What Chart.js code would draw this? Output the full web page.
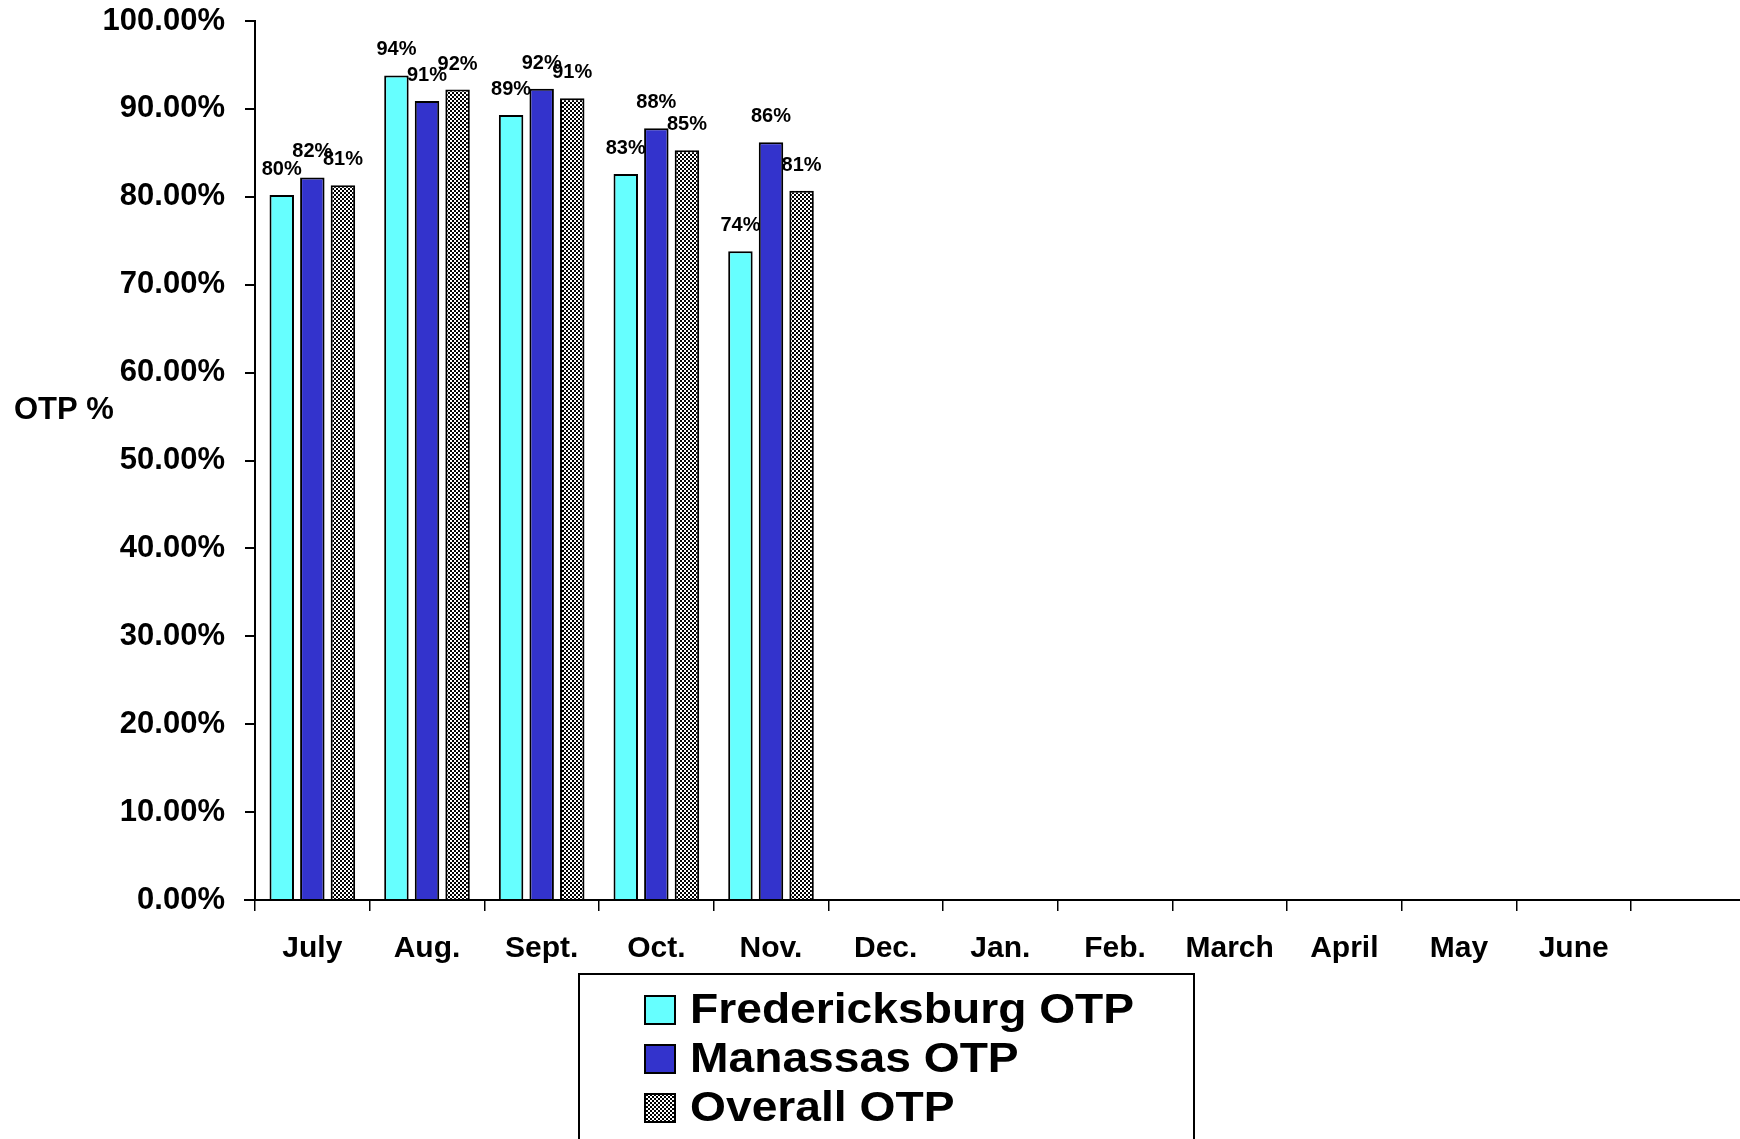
<!DOCTYPE html>
<html>
<head>
<meta charset="utf-8">
<script src="https://cdn.jsdelivr.net/npm/chart.js@4/dist/chart.umd.min.js"></script>
<style>
  html, body { margin: 0; padding: 0; background: #fff; }
  #wrap { width: 1740px; height: 1139px; }
</style>
</head>
<body>
<div id="wrap"><canvas id="c" width="1740" height="1139"></canvas></div>
<script>
// ---- data ----
const months = ["July", "Aug.", "Sept.", "Oct.", "Nov.", "Dec.", "Jan.", "Feb.", "March", "April", "May", "June"];
const fredericksburg = [80.2, 93.8, 89.3, 82.6, 73.8];
const manassas = [82.2, 90.9, 92.3, 87.8, 86.2];
const overall = [81.3, 92.2, 91.2, 85.3, 80.7];
const seriesNames = ["Fredericksburg OTP", "Manassas OTP", "Overall OTP"];
const yTicks = [0, 10, 20, 30, 40, 50, 60, 70, 80, 90, 100];
const yTitle = "OTP %";

const FONT = "'Liberation Sans', Arial, sans-serif";

// checkerboard pattern
function makeChecker() {
  const c = document.createElement('canvas');
  c.width = 4; c.height = 4;
  const x = c.getContext('2d');
  x.fillStyle = '#fff'; x.fillRect(0, 0, 4, 4);
  x.fillStyle = '#000'; x.fillRect(0, 0, 2, 2); x.fillRect(2, 2, 2, 2);
  return document.getElementById('c').getContext('2d').createPattern(c, 'repeat');
}
const checker = makeChecker();

const valueLabels = {
  id: 'valueLabels',
  afterDatasetsDraw(chart) {
    const ctx = chart.ctx;
    ctx.save();
    ctx.font = "bold 20px " + FONT;
    ctx.fillStyle = '#000';
    ctx.textAlign = 'center';
    ctx.textBaseline = 'alphabetic';
    chart.data.datasets.forEach((ds, i) => {
      const meta = chart.getDatasetMeta(i);
      meta.data.forEach((el, j) => {
        const v = ds.data[j];
        if (v == null) return;
        ctx.fillText(Math.round(v) + '%', el.x, el.y - 20);
      });
    });
    ctx.restore();
  }
};

const axisExtras = {
  id: 'axisExtras',
  afterDraw(chart) {
    const ctx = chart.ctx;
    const a = chart.chartArea;
    ctx.save();
    // x baseline extended to the right edge
    ctx.strokeStyle = '#000';
    ctx.lineWidth = 2;
    ctx.beginPath();
    ctx.moveTo(a.left - 11, a.bottom);
    ctx.lineTo(chart.width, a.bottom);
    ctx.stroke();
    // horizontal y title
    ctx.font = "bold 31px " + FONT;
    ctx.fillStyle = '#000';
    ctx.textAlign = 'left';
    ctx.textBaseline = 'middle';
    ctx.fillText(yTitle, 14, a.top + (a.bottom - a.top) * 0.443);

    // legend box
    const bx = 579, by = 974, bw = 615;
    ctx.lineWidth = 2;
    ctx.strokeRect(bx, by, bw, chart.height - by + 10);
    const rowY = [1010, 1059, 1108];
    chart.data.datasets.forEach((ds, i) => {
      const y = rowY[i];
      ctx.fillStyle = ds.backgroundColor;
      ctx.fillRect(645, y - 14, 30, 28);
      ctx.strokeStyle = '#000';
      ctx.lineWidth = 2;
      ctx.strokeRect(645, y - 14, 30, 28);
      ctx.save();
      ctx.translate(690, y);
      ctx.scale(1.1, 1);
      ctx.font = "bold 42px " + FONT;
      ctx.fillStyle = '#000';
      ctx.textAlign = 'left';
      ctx.textBaseline = 'middle';
      ctx.fillText(ds.label, 0, 1);
      ctx.restore();
    });
    ctx.restore();
  }
};

new Chart(document.getElementById('c'), {
  type: 'bar',
  data: {
    labels: months,
    datasets: [
      { label: seriesNames[0], data: fredericksburg, backgroundColor: '#66FFFF', borderColor: '#000', borderWidth: 2 },
      { label: seriesNames[1], data: manassas, backgroundColor: '#3333CC', borderColor: '#000', borderWidth: 2 },
      { label: seriesNames[2], data: overall, backgroundColor: checker, borderColor: '#000', borderWidth: 2 }
    ]
  },
  options: {
    responsive: false,
    animation: false,
    devicePixelRatio: 1,
    layout: { padding: { left: 0, right: 109, top: 21, bottom: 0 } },
    datasets: { bar: { categoryPercentage: 0.8, barPercentage: 0.8 } },
    plugins: { legend: { display: false }, tooltip: { enabled: false } },
    scales: {
      x: {
        offset: true,
        grid: { offset: true, drawOnChartArea: false, drawTicks: true, tickLength: 11, color: '#000', lineWidth: 1.5 },
        border: { display: false },
        ticks: { color: '#000', font: { family: FONT, size: 30, weight: 'bold' }, padding: 20, maxRotation: 0, autoSkip: false },
        afterFit(s) { s.height = 239; s.paddingLeft = 0; s.paddingRight = 0; }
      },
      y: {
        min: 0, max: 100,
        afterBuildTicks(s) { s.ticks = yTicks.map(v => ({ value: v })); },
        grid: { drawOnChartArea: false, drawTicks: true, tickLength: 10, color: '#000', lineWidth: 2 },
        border: { display: true, color: '#000', width: 2 },
        ticks: { color: '#000', font: { family: FONT, size: 31, weight: 'bold' }, padding: 20,
                 callback: v => Number(v).toFixed(2) + '%' },
        afterFit(s) { s.width = 255; s.paddingTop = 0; s.paddingBottom = 0; }
      }
    }
  },
  plugins: [valueLabels, axisExtras]
});
</script>
</body>
</html>
